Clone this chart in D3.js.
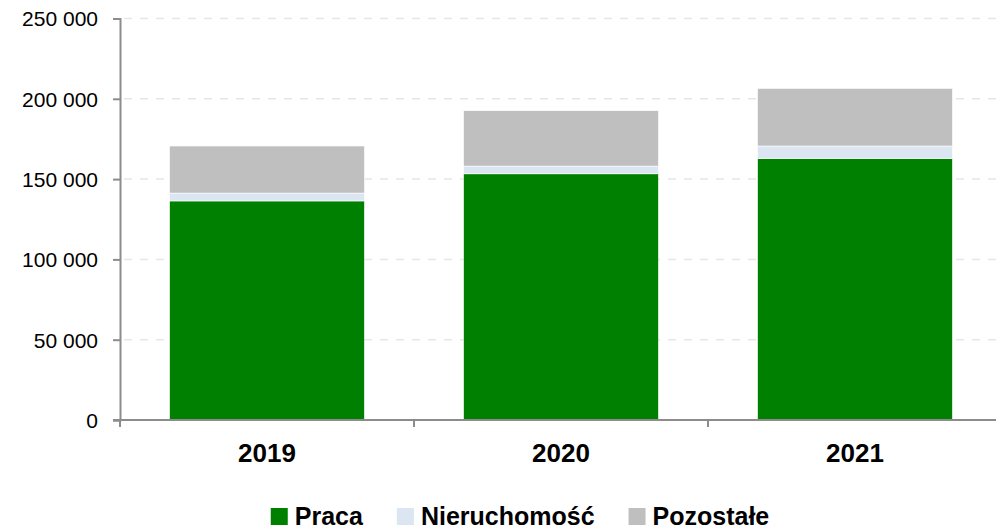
<!DOCTYPE html>
<html>
<head>
<meta charset="utf-8">
<script src="https://cdn.jsdelivr.net/npm/d3@7"></script>
<style>
  body { margin: 0; background: #fff; }
  svg { display: block; font-family: "Liberation Sans", Arial, sans-serif; }
</style>
</head>
<body>
<svg id="chart" width="996" height="531"></svg>
<script>
// data
const years = ["2019", "2020", "2021"];
const seriesNames = ["Praca", "Nieruchomość", "Pozostałe"];
const praca = [136400, 153300, 162900];
const nieruchomosc = [4900, 4800, 7700];
const pozostale = [29300, 34500, 35900];
const yTicks = [0, 50000, 100000, 150000, 200000, 250000];

const colors = ["#008000", "#dce6f2", "#bfbfbf"];
const axisColor = "#8c8c8c";

const svg = d3.select("#chart");
const margin = { left: 120, right: 1002, top: 18.5, bottom: 420 };

const rows = years.map((y, i) => ({
  year: y,
  "Praca": praca[i],
  "Nieruchomość": nieruchomosc[i],
  "Pozostałe": pozostale[i]
}));
const stacked = d3.stack().keys(seriesNames)(rows);

const x = d3.scaleBand()
  .domain(years)
  .range([margin.left, margin.right])
  .paddingInner(0.337)
  .paddingOuter(0.1685);

const y = d3.scaleLinear()
  .domain([0, 250000])
  .range([margin.bottom, margin.top]);

const fmt = d3.formatLocale({ decimal: ",", thousands: " ", grouping: [3], currency: ["", ""] }).format(",");

// dashed gridlines
svg.append("g")
  .selectAll("line")
  .data(yTicks.filter(d => d > 0))
  .join("line")
    .attr("x1", margin.left + 4)
    .attr("x2", margin.right)
    .attr("y1", d => y(d))
    .attr("y2", d => y(d))
    .attr("stroke", "#e6e6e6")
    .attr("stroke-width", 1.5)
    .attr("stroke-dasharray", "8,8");

// bars
svg.append("g")
  .selectAll("g")
  .data(stacked)
  .join("g")
    .attr("fill", (d, i) => colors[i])
  .selectAll("rect")
  .data(d => d)
  .join("rect")
    .attr("x", d => x(d.data.year))
    .attr("y", d => y(d[1]))
    .attr("width", x.bandwidth())
    .attr("height", d => y(d[0]) - y(d[1]))
    .attr("stroke", "#ffffff")
    .attr("stroke-width", 0.6);

// y axis
const yAxis = svg.append("g")
  .attr("transform", `translate(${margin.left},0)`)
  .call(d3.axisLeft(y).tickValues(yTicks).tickFormat(fmt).tickSize(7).tickPadding(15));
yAxis.select(".domain").attr("stroke", axisColor).attr("stroke-width", 2);
yAxis.selectAll(".tick line").attr("stroke", axisColor).attr("stroke-width", 2);
yAxis.selectAll(".tick text")
  .attr("fill", "#000")
  .style("font-size", "21px")
  .attr("dy", "0.35em");

// x axis
const xAxis = svg.append("g")
  .attr("transform", `translate(0,${margin.bottom})`)
  .call(d3.axisBottom(x).tickSize(0).tickPadding(24));
xAxis.select(".domain")
  .attr("d", `M${margin.left - 7},0H${margin.right}`)
  .attr("stroke", axisColor).attr("stroke-width", 2);
xAxis.selectAll(".tick text")
  .attr("fill", "#000")
  .style("font-size", "26px")
  .style("font-weight", "bold");

const boundaries = years.map(d => x(d) - x.step() * x.paddingInner() / 2)
  .concat([margin.right]);
boundaries[0] = margin.left;
xAxis.append("g")
  .selectAll("line")
  .data(boundaries)
  .join("line")
    .attr("x1", d => d)
    .attr("x2", d => d)
    .attr("y1", 0)
    .attr("y2", 7)
    .attr("stroke", axisColor)
    .attr("stroke-width", 2);

// legend
const legend = svg.append("g").attr("transform", "translate(0,516)");
const items = legend.selectAll("g")
  .data(seriesNames)
  .join("g");
items.append("rect")
  .attr("y", -8)
  .attr("width", 17)
  .attr("height", 17)
  .attr("fill", (d, i) => colors[i]);
items.append("text")
  .attr("x", 24)
  .attr("dy", "0.36em")
  .style("font-size", "25px")
  .style("font-weight", "bold")
  .text(d => d);

let cursor = 0;
const offsets = [];
items.each(function () {
  offsets.push(cursor);
  const w = 24 + d3.select(this).select("text").node().getComputedTextLength();
  cursor += w + 34;
});
const total = cursor - 34;
const start = 520 - total / 2;
items.attr("transform", (d, i) => `translate(${start + offsets[i]},0)`);
</script>
</body>
</html>
